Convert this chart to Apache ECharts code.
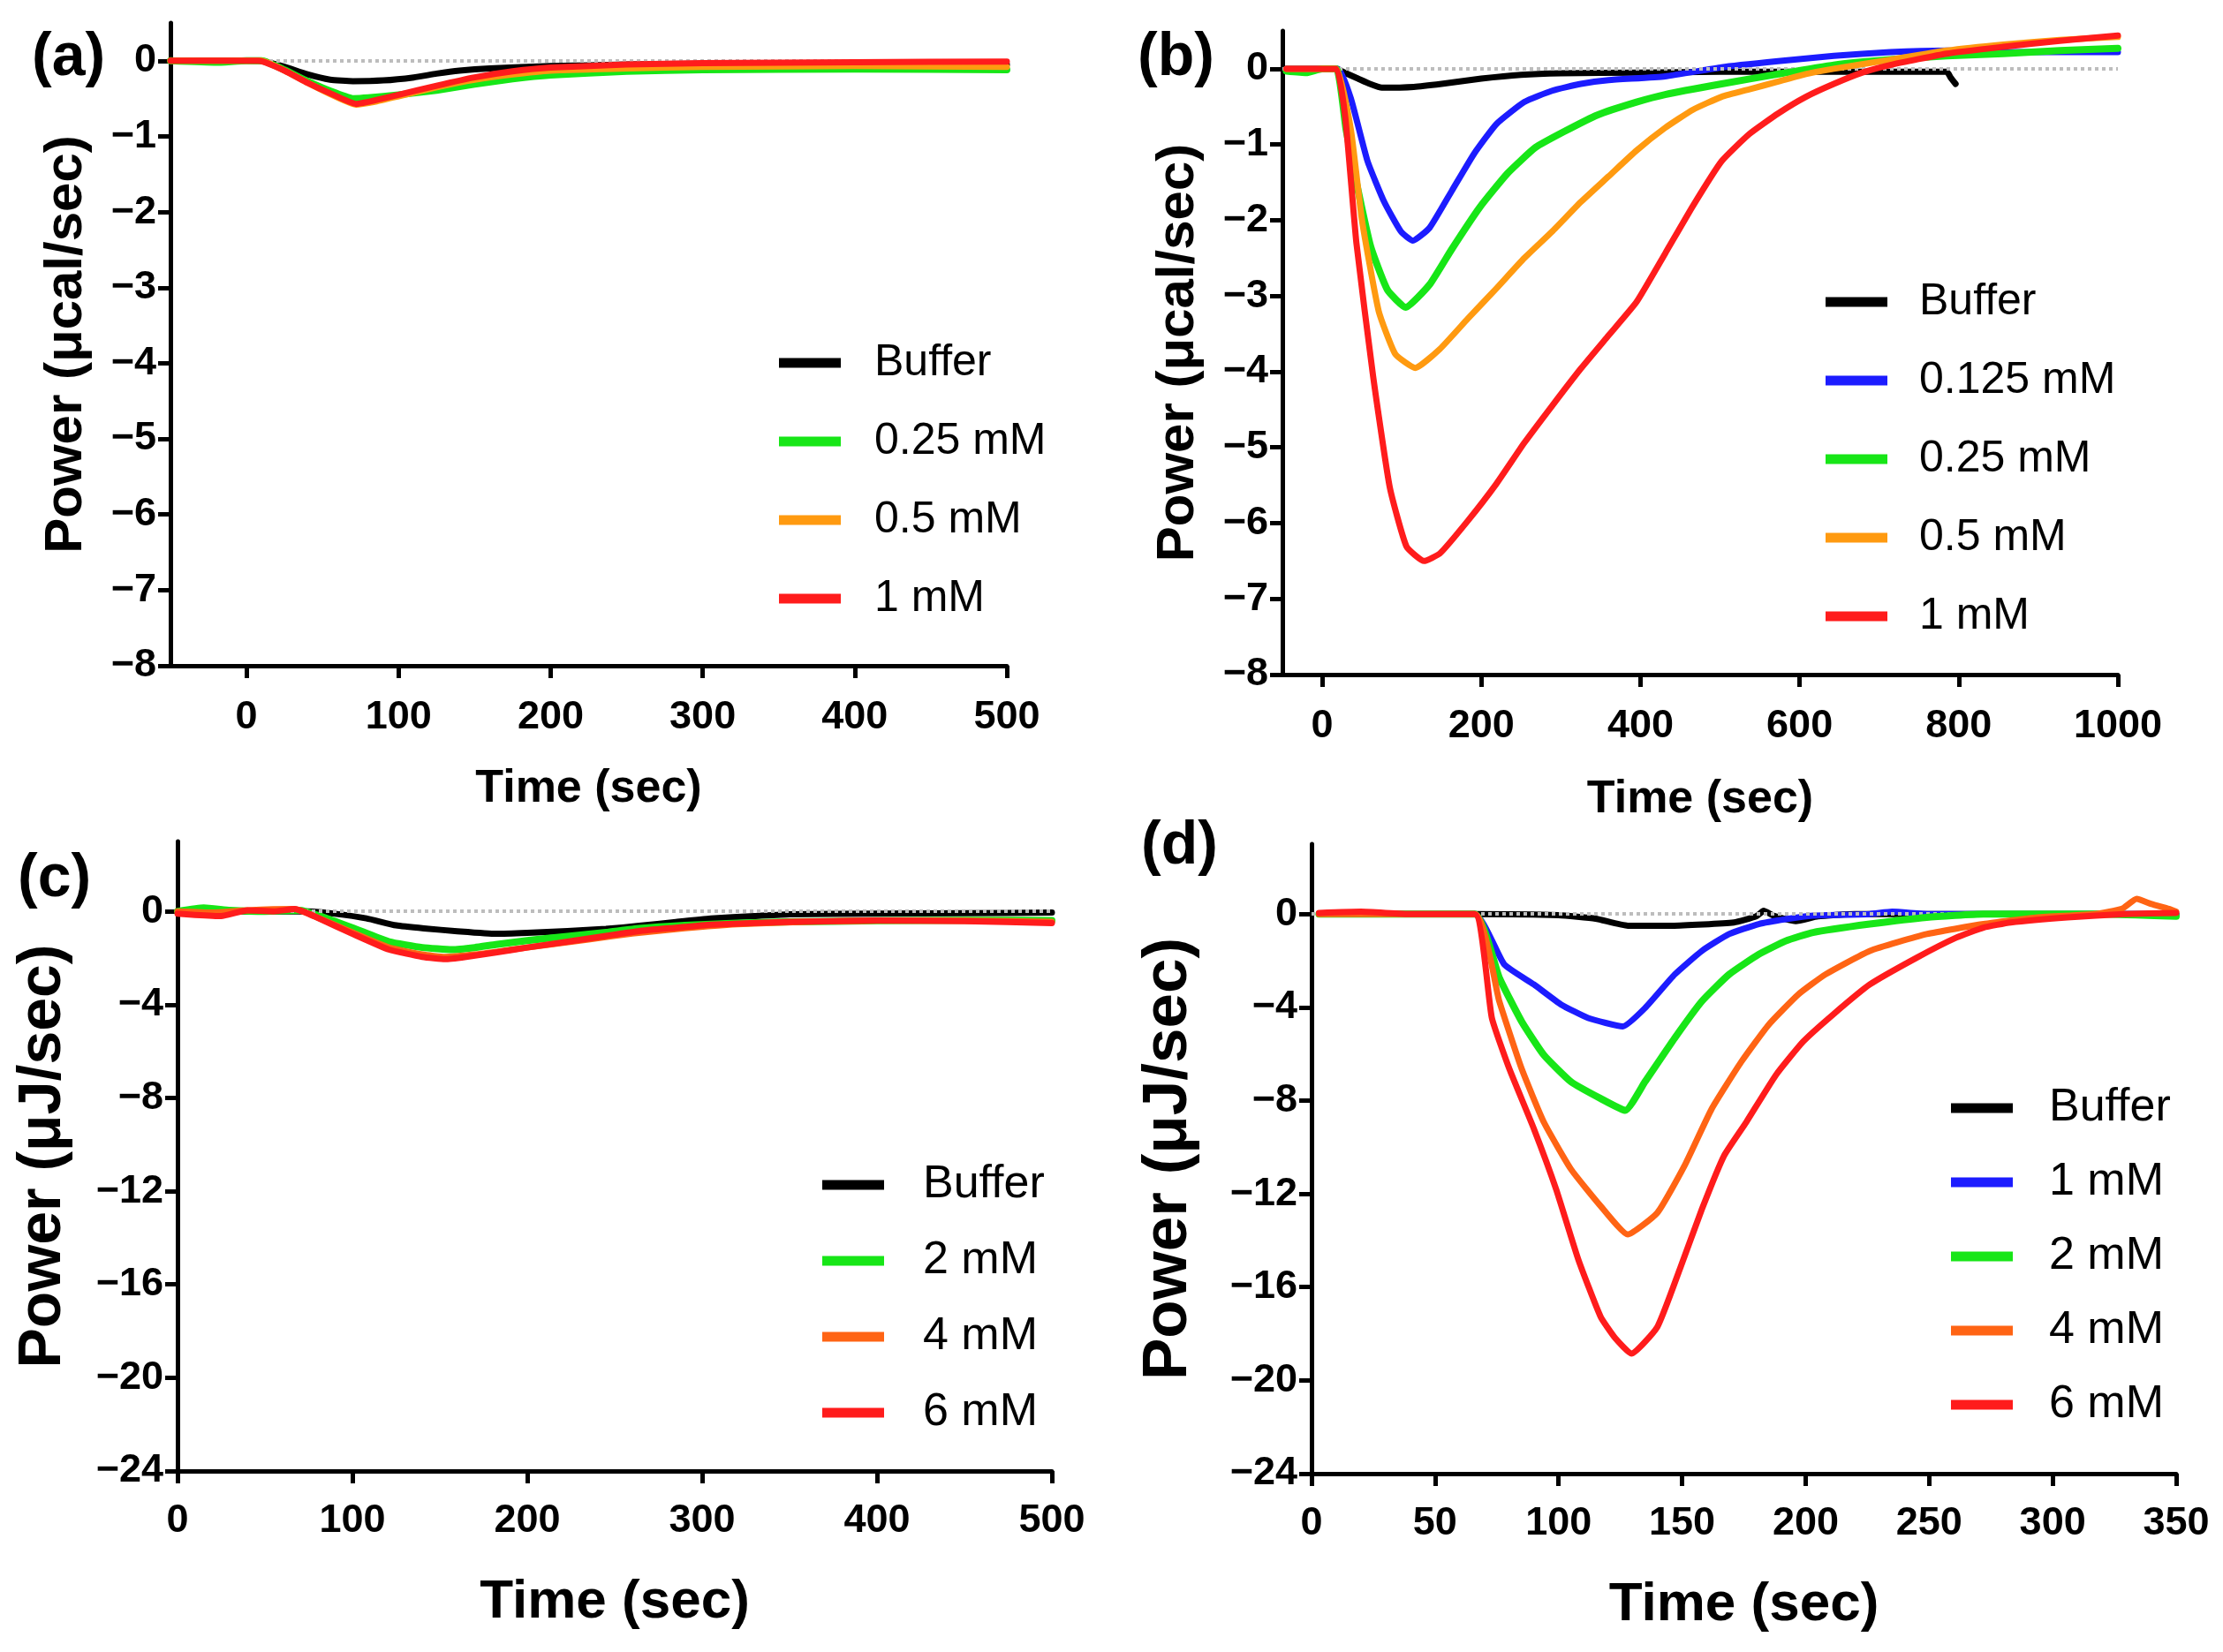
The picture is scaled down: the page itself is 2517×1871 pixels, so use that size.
<!DOCTYPE html>
<html>
<head>
<meta charset="utf-8">
<title>ITC power traces</title>
<script src="https://cdn.jsdelivr.net/npm/echarts@6/dist/echarts.min.js"></script>
<style>
  html, body { margin: 0; padding: 0; background: #fff; }
  #chart { width: 2517px; height: 1871px; }
</style>
</head>
<body>
<div id="chart"></div>
<script>
// ---- data: [time (sec), power] ----
// panel (a)
var aBuffer = [[-50,0],[0,0],[12,-0.01],[25,-0.08],[40,-0.18],[55,-0.25],[70,-0.27],[90,-0.26],[110,-0.22],[125,-0.17],[140,-0.13],[160,-0.1],[200,-0.07],[250,-0.05],[300,-0.04],[400,-0.04],[500,-0.05]];
var a025 = [[-50,0],[-20,-0.02],[0,0],[10,0],[25,-0.12],[40,-0.27],[55,-0.4],[70,-0.5],[80,-0.49],[100,-0.45],[125,-0.39],[150,-0.31],[175,-0.24],[200,-0.19],[250,-0.14],[300,-0.12],[400,-0.11],[500,-0.12]];
var a05 = [[-50,0],[0,0],[10,0],[25,-0.13],[40,-0.29],[55,-0.44],[72,-0.58],[85,-0.54],[100,-0.47],[125,-0.35],[150,-0.25],[175,-0.18],[200,-0.13],[250,-0.1],[300,-0.08],[400,-0.07],[500,-0.08]];
var a1 = [[-50,0],[0,0],[8,0],[25,-0.13],[40,-0.29],[55,-0.43],[72,-0.57],[85,-0.52],[100,-0.45],[125,-0.33],[150,-0.22],[175,-0.14],[200,-0.09],[250,-0.05],[300,-0.03],[400,-0.02],[500,-0.01]];

// panel (b)
var bBuffer = [[-45,0],[0,0],[18,0],[30,-0.06],[45,-0.13],[60,-0.2],[75,-0.25],[115,-0.24],[150,-0.2],[200,-0.13],[250,-0.08],[300,-0.06],[400,-0.05],[500,-0.04],[650,-0.04],[785,-0.04],[790,-0.12],[796,-0.2]];
var b0125 = [[-45,0],[0,0],[20,0],[36,-0.39],[57,-1.22],[78,-1.76],[99,-2.15],[114,-2.27],[135,-2.1],[163,-1.61],[191,-1.12],[219,-0.73],[254,-0.44],[289,-0.29],[325,-0.2],[360,-0.15],[431,-0.1],[502,0.02],[573,0.1],[643,0.17],[714,0.22],[785,0.24],[856,0.22],[1000,0.22]];
var b025 = [[-45,-0.03],[-20,-0.05],[0,0],[18,0],[30,-0.8],[43,-1.5],[61,-2.35],[82,-2.92],[105,-3.15],[135,-2.85],[163,-2.38],[198,-1.83],[233,-1.38],[268,-1.04],[304,-0.83],[346,-0.61],[395,-0.44],[431,-0.34],[502,-0.2],[573,-0.07],[643,0.05],[714,0.12],[785,0.17],[856,0.2],[927,0.24],[1000,0.27]];
var b05 = [[-45,0],[0,0],[18,0],[36,-0.8],[50,-2.0],[71,-3.2],[92,-3.77],[117,-3.95],[148,-3.7],[183,-3.3],[219,-2.9],[254,-2.5],[289,-2.15],[325,-1.76],[360,-1.42],[395,-1.08],[431,-0.78],[466,-0.54],[502,-0.37],[537,-0.27],[573,-0.17],[608,-0.07],[643,0],[714,0.12],[785,0.24],[856,0.32],[927,0.38],[1000,0.42]];
var b1 = [[-45,0],[0,0],[18,0],[29,-0.64],[43,-2.3],[64,-4.06],[85,-5.53],[106,-6.31],[128,-6.5],[148,-6.4],[183,-5.97],[219,-5.48],[254,-4.94],[289,-4.45],[325,-3.96],[360,-3.52],[395,-3.08],[431,-2.44],[466,-1.81],[502,-1.22],[537,-0.86],[573,-0.59],[608,-0.37],[643,-0.2],[679,-0.05],[714,0.05],[785,0.2],[856,0.29],[927,0.37],[1000,0.44]];

// panel (c)
var cBuffer = [[0,0],[75,0],[90,-0.1],[108,-0.3],[125,-0.6],[141,-0.73],[160,-0.85],[182,-0.96],[200,-0.92],[223,-0.84],[245,-0.75],[264,-0.62],[285,-0.45],[305,-0.3],[330,-0.2],[350,-0.12],[400,-0.1],[450,-0.08],[500,-0.05]];
var c2 = [[0,0],[15,0.15],[30,0.05],[50,0],[70,0.05],[80,-0.16],[100,-0.7],[121,-1.3],[140,-1.55],[157,-1.64],[170,-1.55],[182,-1.42],[200,-1.25],[223,-1.07],[245,-0.9],[264,-0.73],[290,-0.6],[320,-0.5],[350,-0.45],[400,-0.4],[450,-0.38],[500,-0.39]];
var c4 = [[0,0],[20,-0.05],[40,0.05],[67,0.1],[78,-0.2],[100,-0.9],[121,-1.55],[140,-1.85],[153,-1.95],[170,-1.85],[190,-1.65],[210,-1.45],[235,-1.2],[260,-0.95],[290,-0.72],[320,-0.55],[360,-0.45],[400,-0.4],[450,-0.4],[500,-0.45]];
var c6 = [[0,-0.1],[10,-0.15],[25,-0.2],[40,0.05],[55,0],[67,0.1],[75,-0.1],[80,-0.27],[100,-0.96],[121,-1.64],[140,-1.95],[153,-2.05],[165,-1.95],[182,-1.76],[200,-1.55],[223,-1.3],[245,-1.05],[264,-0.84],[285,-0.7],[305,-0.57],[350,-0.45],[400,-0.39],[450,-0.42],[500,-0.5]];

// panel (d)
var dBuffer = [[3,0],[66,0],[100,-0.05],[115,-0.2],[128,-0.5],[146,-0.5],[171,-0.36],[180,-0.1],[183,0.14],[187,-0.07],[196,-0.3],[205,-0.1],[220,0],[350,0]];
var d1 = [[3,0],[66,0],[78,-2.16],[90,-3.02],[101,-3.88],[112,-4.46],[126,-4.82],[135,-4.03],[147,-2.59],[158,-1.58],[169,-0.86],[181,-0.43],[192,-0.22],[203,-0.07],[226,0],[235,0.1],[250,0],[350,0]];
var d2 = [[3,0],[66,0],[76,-2.73],[85,-4.6],[94,-6.04],[105,-7.19],[117,-7.91],[127,-8.42],[135,-7.19],[147,-5.32],[158,-3.74],[169,-2.59],[181,-1.73],[192,-1.15],[203,-0.79],[226,-0.43],[249,-0.14],[272,0],[320,0],[350,-0.1]];
var d4 = [[3,0],[66,0],[76,-3.74],[85,-6.62],[94,-8.92],[105,-10.94],[117,-12.52],[128,-13.74],[140,-12.81],[151,-10.79],[162,-8.35],[174,-6.33],[185,-4.75],[197,-3.45],[208,-2.59],[226,-1.58],[249,-0.86],[272,-0.43],[294,-0.14],[317,0],[328,0.22],[334,0.65],[340,0.43],[347,0.22],[350,0.1]];
var d6 = [[3,0.05],[20,0.1],[40,0],[66,0],[73,-4.46],[80,-6.62],[90,-9.21],[99,-11.8],[108,-14.82],[117,-17.27],[123,-18.2],[129.5,-18.85],[140,-17.7],[149,-15.25],[158,-12.66],[167,-10.36],[176,-8.92],[188,-6.9],[199,-5.47],[211,-4.32],[226,-3.02],[245,-1.87],[261,-1.01],[272,-0.58],[283,-0.36],[306,-0.14],[329,0],[350,0.05]];

// tick labels
var aXTicks = [0, 100, 200, 300, 400, 500];
var bXTicks = [0, 200, 400, 600, 800, 1000];
var cXTicks = [0, 100, 200, 300, 400, 500];
var dXTicks = [0, 50, 100, 150, 200, 250, 300, 350];
var calTicks = [-8, -7, -6, -5, -4, -3, -2, -1, 0];
var jTicks = [-24, -20, -16, -12, -8, -4, 0];

var BLACK = '#000000', GREEN = '#17e617', ORANGE = '#ff9a10', RED = '#ff1c1c', BLUE = '#1c1cff', RORANGE = '#ff6414';
var ARIAL = "'Liberation Sans', Arial, sans-serif";

var minus = function (v) { return String(v).replace('-', '\u2212'); };
var plain = function (v) { return String(v); };

// panel layout
var panels = [
    { grid: {left: 193, top: 26, width: 947, height: 728}, xMin: -50, xMax: 500, yMin: -8, yMax: 0.5,
      xTicks: aXTicks, yTicks: calTicks, yName: 'Power (\u03bccal/sec)', tickSize: 45, nameSize: 52, yNameSize: 60, yGap: 88, xGap: 114, labelMargin: 36,
      series: [['Buffer', aBuffer, BLACK], ['0.25 mM', a025, GREEN], ['0.5 mM', a05, ORANGE], ['1 mM', a1, RED]],
      legend: {left: 877, top: 381, gap: 39, size: 50, pad: 33}, tag: ['(a)', 36, 66] },
    { grid: {left: 1452, top: 35, width: 946, height: 729}, xMin: -50, xMax: 1000, yMin: -8, yMax: 0.5,
      xTicks: bXTicks, yTicks: calTicks, yName: 'Power (\u03bccal/sec)', tickSize: 45, nameSize: 52, yNameSize: 60, yGap: 88, xGap: 116, labelMargin: 36,
      series: [['Buffer', bBuffer, BLACK], ['0.125 mM', b0125, BLUE], ['0.25 mM', b025, GREEN], ['0.5 mM', b05, ORANGE], ['1 mM', b1, RED]],
      legend: {left: 2062, top: 312, gap: 39, size: 50, pad: 31}, tag: ['(b)', 1288, 66] },
    { grid: {left: 201, top: 953, width: 990, height: 713}, xMin: 0, xMax: 500, yMin: -24, yMax: 3,
      xTicks: cXTicks, yTicks: jTicks, yName: 'Power (\u03bcJ/sec)', tickSize: 45, nameSize: 62, yNameSize: 68, yGap: 118, xGap: 118, labelMargin: 34,
      series: [['Buffer', cBuffer, BLACK], ['2 mM', c2, GREEN], ['4 mM', c4, RORANGE], ['6 mM', c6, RED]],
      legend: {left: 926, top: 1311, gap: 34, size: 52, pad: 39}, tag: ['(c)', 20, 996] },
    { grid: {left: 1485, top: 956, width: 979, height: 713}, xMin: 0, xMax: 350, yMin: -24, yMax: 3,
      xTicks: dXTicks, yTicks: jTicks, yName: 'Power (\u03bcJ/sec)', tickSize: 45, nameSize: 62, yNameSize: 71, yGap: 126, xGap: 118, labelMargin: 34,
      series: [['Buffer', dBuffer, BLACK], ['1 mM', d1, BLUE], ['2 mM', d2, GREEN], ['4 mM', d4, RORANGE], ['6 mM', d6, RED]],
      legend: {left: 2204, top: 1224, gap: 32, size: 52, pad: 36}, tag: ['(d)', 1292, 959] }
];

var option = {
    backgroundColor: '#ffffff',
    animation: false,
    grid: [], xAxis: [], yAxis: [], legend: [], series: [], graphic: []
};

panels.forEach(function (p, i) {
    var g = p.grid;
    option.grid.push({left: g.left, top: g.top, width: g.width, height: g.height, outerBoundsMode: 'none'});

    option.xAxis.push({
        type: 'value', gridIndex: i, min: p.xMin, max: p.xMax,
        name: 'Time (sec)', nameLocation: 'middle', nameGap: p.xGap, nameMoveOverlap: false,
        nameTextStyle: {fontFamily: ARIAL, fontWeight: 'bold', fontSize: p.nameSize, color: '#000'},
        axisLine: {onZero: false, lineStyle: {color: '#000', width: 5}},
        axisTick: {customValues: p.xTicks, length: 14, lineStyle: {color: '#000', width: 5}},
        axisLabel: {customValues: p.xTicks, formatter: plain, margin: p.labelMargin, fontFamily: ARIAL, fontWeight: 'bold', fontSize: p.tickSize, color: '#000'},
        splitLine: {show: false}
    });

    option.yAxis.push({
        type: 'value', gridIndex: i, min: p.yMin, max: p.yMax,
        name: p.yName, nameLocation: 'middle', nameRotate: 90, nameGap: p.yGap, nameMoveOverlap: false,
        nameTextStyle: {fontFamily: ARIAL, fontWeight: 'bold', fontSize: p.yNameSize, color: '#000'},
        axisLine: {onZero: false, lineStyle: {color: '#000', width: 5}},
        axisTick: {customValues: p.yTicks, length: 14, lineStyle: {color: '#000', width: 5}},
        axisLabel: {customValues: p.yTicks, margin: 16, formatter: minus, fontFamily: ARIAL, fontWeight: 'bold', fontSize: p.tickSize, color: '#000'},
        splitLine: {show: false}
    });

    option.legend.push({
        orient: 'vertical', left: p.legend.left, top: p.legend.top,
        itemWidth: 70, itemHeight: 11, itemGap: p.legend.gap, icon: 'rect',
        selectedMode: false,
        textStyle: {fontFamily: ARIAL, fontSize: p.legend.size, lineHeight: p.legend.size, color: '#000', padding: [0, 0, 0, p.legend.pad]},
        data: p.series.map(function (s) {
            return {name: s[0], itemStyle: {color: s[2], borderWidth: 0}, lineStyle: {color: s[2]}};
        })
    });

    p.series.forEach(function (s, k) {
        var item = {
            name: s[0], type: 'line', xAxisIndex: i, yAxisIndex: i,
            data: s[1], showSymbol: false, symbol: 'none',
            smooth: 0.15,
            lineStyle: {color: s[2], width: s[2] === GREEN ? 8 : 7, join: 'round', cap: 'round'},
            itemStyle: {color: s[2]},
            z: 3 + k, silent: true
        };
        if (k === 0) {
            // dotted zero baseline
            item.markLine = {
                silent: true, symbol: 'none', label: {show: false},
                lineStyle: {color: '#bdbdbd', type: 'dotted', width: 4},
                data: [{yAxis: 0}]
            };
        }
        option.series.push(item);
    });

    option.graphic.push({
        type: 'text', x: p.tag[1], y: p.tag[2],
        style: {text: p.tag[0], fontFamily: ARIAL, fontWeight: 'bold', fontSize: 68, fill: '#000', textVerticalAlign: 'middle'}
    });
});

var chart = echarts.init(document.getElementById('chart'), null, {renderer: 'canvas'});
chart.setOption(option);
</script>
</body>
</html>
